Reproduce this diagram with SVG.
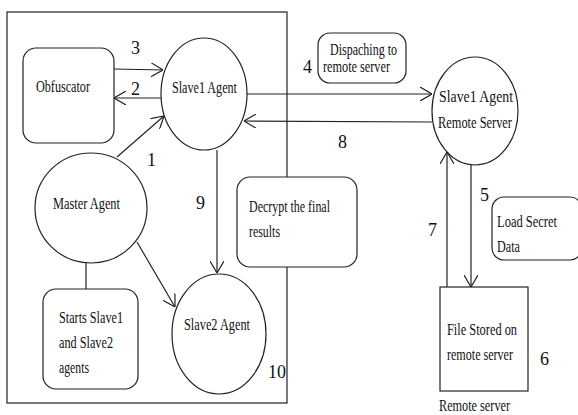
<svg xmlns="http://www.w3.org/2000/svg" width="578" height="415" viewBox="0 0 578 415">
<style>
.s{fill:#fff;stroke:#222;stroke-width:1.2}
.c{fill:none;stroke:#222;stroke-width:1.2}
text{font-family:"Liberation Serif","Times New Roman",serif;font-size:17px;fill:#111}
.n{font-size:18px}
</style>
<defs>
<marker id="a" viewBox="0 0 12 14" refX="12" refY="7" markerWidth="12" markerHeight="14" markerUnits="userSpaceOnUse" orient="auto">
<path d="M0,0 L12,7 L0,14" fill="none" stroke="#222" stroke-width="1.2"/>
</marker>
</defs>
<rect width="578" height="415" fill="#fff"/>
<g id="boundary"><rect x="7" y="12" width="280" height="391" class="c"/></g>
<g id="connectors" class="c">
<path d="M114,69 L163,70" marker-end="url(#a)"/>
<path d="M161,98 L114,98" marker-end="url(#a)"/>
<path d="M117,157 L164,116" marker-end="url(#a)"/>
<path d="M247,94 L432,94" marker-end="url(#a)"/>
<path d="M432,122 L244,121" marker-end="url(#a)"/>
<path d="M217,150 L217,273" marker-end="url(#a)"/>
<path d="M137,242 L175,307" marker-end="url(#a)"/>
<path d="M86,263 L86,290"/>
<path d="M471,165 L471,287" marker-end="url(#a)"/>
<path d="M447,287 L447,152" marker-end="url(#a)"/>
</g>
<g id="obfuscator"><rect x="23" y="48" width="91" height="95" rx="13" class="s"/><text x="36" y="92" textLength="54" lengthAdjust="spacingAndGlyphs">Obfuscator</text></g>
<g id="slave1"><ellipse cx="204" cy="94" rx="43" ry="56" class="s"/><text x="172" y="93" textLength="65" lengthAdjust="spacingAndGlyphs">Slave1 Agent</text></g>
<g id="master"><ellipse cx="91" cy="208" rx="56" ry="55" class="s"/><text x="53" y="209" textLength="67" lengthAdjust="spacingAndGlyphs">Master Agent</text></g>
<g id="starts"><rect x="43" y="289" width="95" height="100" rx="13" class="s"/><text x="59" y="323" textLength="64" lengthAdjust="spacingAndGlyphs">Starts Slave1</text><text x="59" y="348" textLength="54" lengthAdjust="spacingAndGlyphs">and Slave2</text><text x="59" y="373" textLength="30" lengthAdjust="spacingAndGlyphs">agents</text></g>
<g id="slave2"><ellipse cx="219" cy="334" rx="47" ry="60" class="s"/><text x="184" y="330" textLength="66" lengthAdjust="spacingAndGlyphs">Slave2 Agent</text></g>
<g id="decrypt"><rect x="237" y="177" width="120" height="90" rx="13" class="s"/><text x="249" y="212" textLength="81" lengthAdjust="spacingAndGlyphs">Decrypt the final</text><text x="249" y="237" textLength="31" lengthAdjust="spacingAndGlyphs">results</text></g>
<g id="dispatch"><rect x="318" y="33" width="88" height="50" rx="12" class="s"/><text x="330" y="55" textLength="67" lengthAdjust="spacingAndGlyphs">Dispaching to</text><text x="323" y="72" textLength="67" lengthAdjust="spacingAndGlyphs">remote server</text></g>
<g id="remote"><ellipse cx="475" cy="111" rx="43" ry="54" class="s"/><text x="439" y="102" textLength="74" lengthAdjust="spacingAndGlyphs">Slave1 Agent</text><text x="438" y="128" textLength="74" lengthAdjust="spacingAndGlyphs">Remote Server</text></g>
<g id="load"><rect x="492" y="197" width="90" height="63" rx="12" class="s"/><text x="497" y="227" textLength="60" lengthAdjust="spacingAndGlyphs">Load Secret</text><text x="497" y="252" textLength="23" lengthAdjust="spacingAndGlyphs">Data</text></g>
<g id="file"><rect x="440" y="287" width="88" height="104" class="s"/><text x="447" y="335" textLength="70" lengthAdjust="spacingAndGlyphs">File Stored on</text><text x="447" y="360" textLength="66" lengthAdjust="spacingAndGlyphs">remote server</text></g>
<g id="labels">
<text class="n" x="131" y="54">3</text>
<text class="n" x="131" y="95">2</text>
<text class="n" x="147" y="166">1</text>
<text class="n" x="196" y="209">9</text>
<text class="n" x="268" y="378">10</text>
<text class="n" x="303" y="73">4</text>
<text class="n" x="338" y="148">8</text>
<text class="n" x="480" y="201">5</text>
<text class="n" x="428" y="236">7</text>
<text class="n" x="540" y="365">6</text>
<text x="439" y="411" textLength="71" lengthAdjust="spacingAndGlyphs">Remote server</text>
</g>
</svg>
